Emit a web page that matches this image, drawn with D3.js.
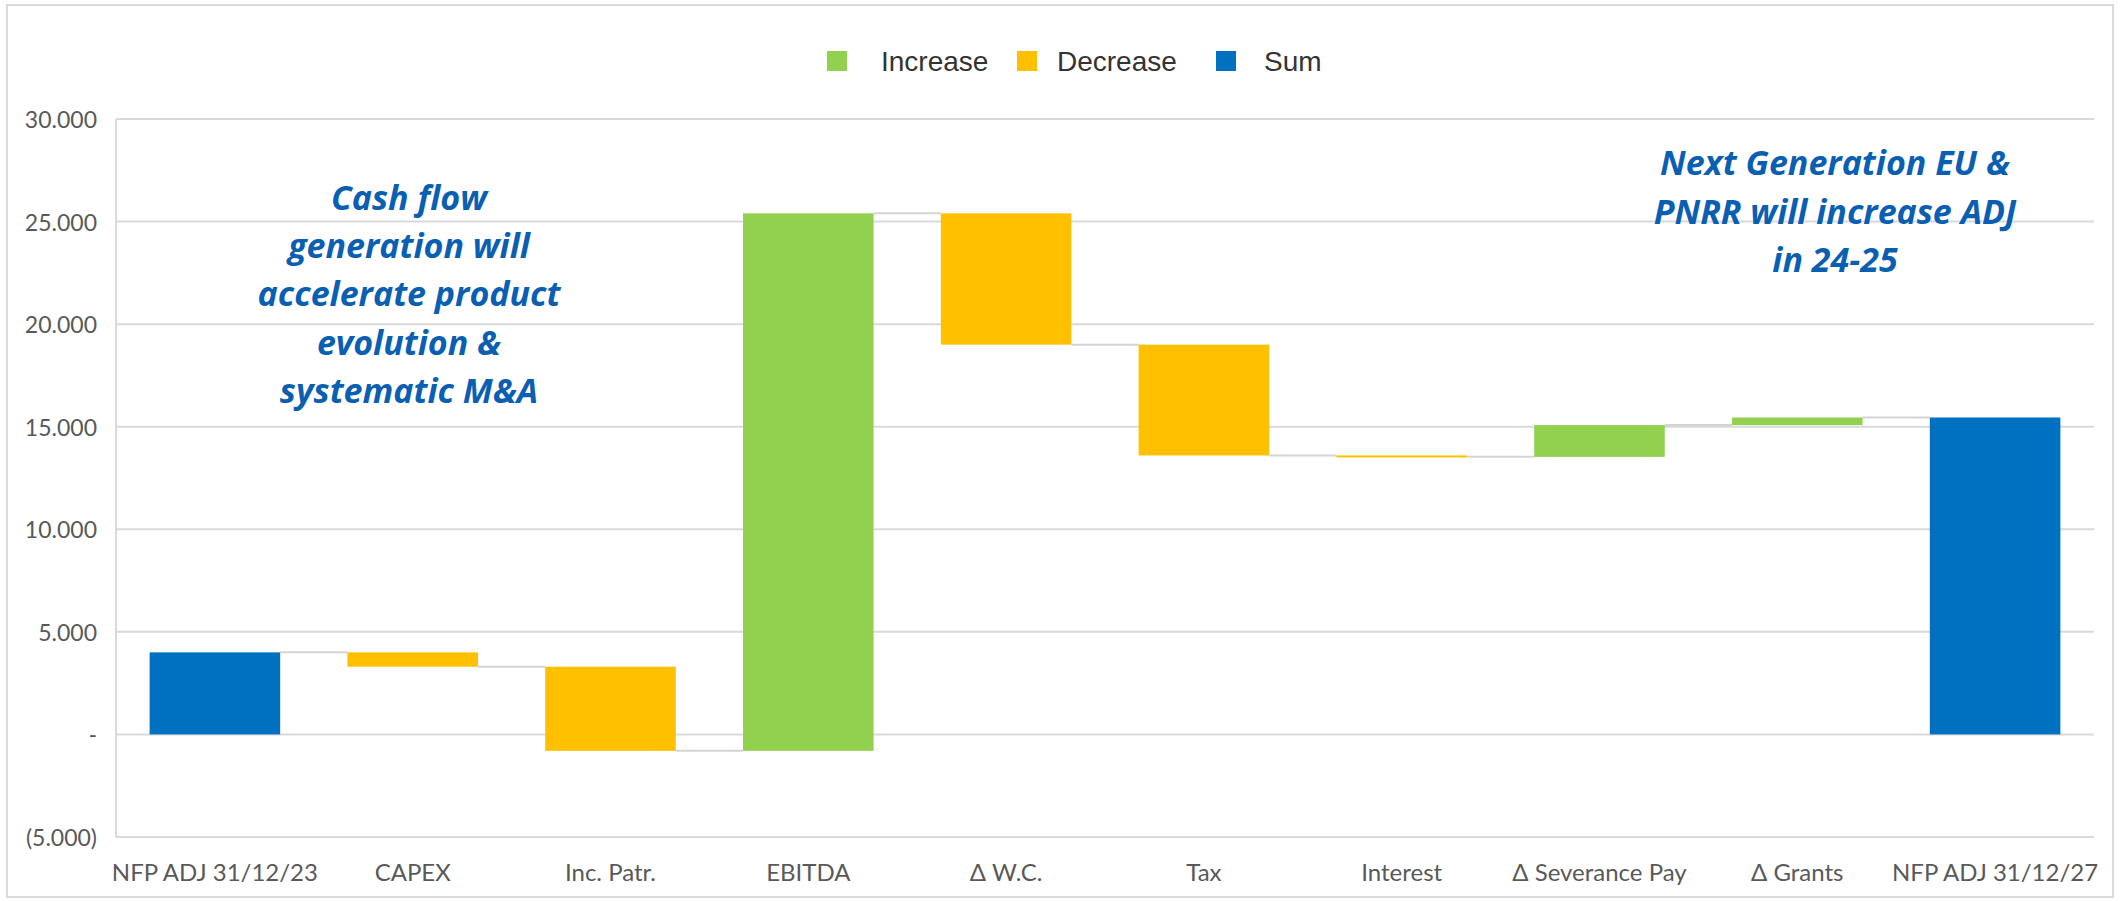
<!DOCTYPE html>
<html>
<head>
<meta charset="utf-8">
<script src="https://cdn.jsdelivr.net/npm/d3@7"></script>
<style>
  html, body { margin: 0; padding: 0; background: #ffffff; }
  svg { display: block; }
</style>
</head>
<body>
<div id="chart"></div>
<script>
// ---- Data ----
const categories = ["NFP ADJ 31/12/23", "CAPEX", "Inc. Patr.", "EBITDA", "\u0394 W.C.", "Tax", "Interest", "\u0394 Severance Pay", "\u0394 Grants", "NFP ADJ 31/12/27"];
const values = [4000, -700, -4100, 26200, -6400, -5400, -70, 1550, 370, 15450];
const kinds = ["sum", "dec", "dec", "inc", "dec", "dec", "dec", "inc", "inc", "sum"];
const yTickValues = [-5000, 0, 5000, 10000, 15000, 20000, 25000, 30000];
const yTickLabels = ["(5.000)", "-", "5.000", "10.000", "15.000", "20.000", "25.000", "30.000"];
const legendItems = ["Increase", "Decrease", "Sum"];
const legendKinds = ["inc", "dec", "sum"];
const noteLeft = ["Cash flow", "generation will", "accelerate product", "evolution &", "systematic M&A"];
const noteRight = ["Next Generation EU &", "PNRR will increase ADJ", "in 24-25"];

// ---- Layout / style ----
const W = 2121, H = 901;
const colors = { inc: "#92D050", dec: "#FFC000", sum: "#0070C0" };
const gridColor = "#D9D9D9";

const svg = d3.select("#chart").append("svg").attr("width", W).attr("height", H);

// frame
svg.append("rect").attr("x", 7).attr("y", 5).attr("width", 2106).attr("height", 892)
  .attr("fill", "#fff").attr("stroke", gridColor).attr("stroke-width", 2);

const x = d3.scaleBand().domain(categories).range([116, 2094]).paddingInner(0.34).paddingOuter(0.17);
const y = d3.scaleLinear().domain([-5000, 30000]).range([837, 119]);

// gridlines
svg.append("g").selectAll("line").data(yTickValues).join("line")
  .attr("x1", 116).attr("x2", 2094)
  .attr("y1", d => y(d)).attr("y2", d => y(d))
  .attr("stroke", gridColor).attr("stroke-width", 2);

// left axis line
svg.append("line").attr("x1", 116).attr("x2", 116).attr("y1", y(30000)).attr("y2", y(-5000))
  .attr("stroke", gridColor).attr("stroke-width", 2);

// y tick labels
svg.append("g").selectAll("text").data(yTickValues).join("text")
  .attr("x", 97).attr("y", d => y(d))
  .attr("text-anchor", "end").attr("dominant-baseline", "central")
  .attr("font-family", "Lato, 'Open Sans', sans-serif").attr("font-size", 23)
  .attr("fill", "#595959")
  .text((d, i) => yTickLabels[i]);

// waterfall computation
let running = 0;
const bars = categories.map((c, i) => {
  let y0, y1;
  if (kinds[i] === "sum") { y0 = 0; y1 = values[i]; running = values[i]; }
  else { y0 = running; y1 = running + values[i]; running = y1; }
  return { cat: c, kind: kinds[i], y0, y1, total: running };
});

// connectors
svg.append("g").selectAll("line").data(bars.slice(0, -1)).join("line")
  .attr("x1", (d) => x(d.cat) + x.bandwidth())
  .attr("x2", (d, i) => x(categories[i + 1]))
  .attr("y1", d => y(d.total)).attr("y2", d => y(d.total))
  .attr("stroke", "#D4D4D4").attr("stroke-width", 2);

// bars
svg.append("g").selectAll("rect").data(bars).join("rect")
  .attr("x", d => x(d.cat))
  .attr("width", x.bandwidth())
  .attr("y", d => y(Math.max(d.y0, d.y1)))
  .attr("height", d => Math.max(2, Math.abs(y(d.y0) - y(d.y1))))
  .attr("fill", d => colors[d.kind]);

// x labels
svg.append("g").selectAll("text").data(categories).join("text")
  .attr("x", d => x(d) + x.bandwidth() / 2).attr("y", 881)
  .attr("text-anchor", "middle")
  .attr("font-family", "Lato, 'Open Sans', sans-serif").attr("font-size", 24)
  .attr("fill", "#595959")
  .text(d => d);

// legend
const legendSquareX = [827, 1017, 1216];
const legendTextX = [881, 1057, 1264];
const lg = svg.append("g");
legendItems.forEach((name, i) => {
  lg.append("rect").attr("x", legendSquareX[i]).attr("y", 51).attr("width", 20).attr("height", 20)
    .attr("fill", colors[legendKinds[i]]);
  lg.append("text").attr("x", legendTextX[i]).attr("y", 61)
    .attr("dominant-baseline", "central")
    .attr("font-family", "'Liberation Sans', Arial, sans-serif").attr("font-size", 28)
    .attr("fill", "#333333").text(name);
});

// annotations
const noteColor = "#0B5FB2";
svg.append("g").selectAll("text").data(noteLeft).join("text")
  .attr("x", 409).attr("y", (d, i) => 210 + i * 48.2)
  .attr("text-anchor", "middle")
  .attr("font-family", "'Open Sans', Lato, sans-serif").attr("font-size", 34)
  .attr("font-weight", "bold").attr("font-style", "italic")
  .attr("fill", noteColor).text(d => d);

svg.append("g").selectAll("text").data(noteRight).join("text")
  .attr("x", 1835).attr("y", (d, i) => 175 + i * 48.5)
  .attr("text-anchor", "middle")
  .attr("font-family", "'Open Sans', Lato, sans-serif").attr("font-size", 34)
  .attr("font-weight", "bold").attr("font-style", "italic")
  .attr("fill", noteColor).text(d => d);
</script>
</body>
</html>
